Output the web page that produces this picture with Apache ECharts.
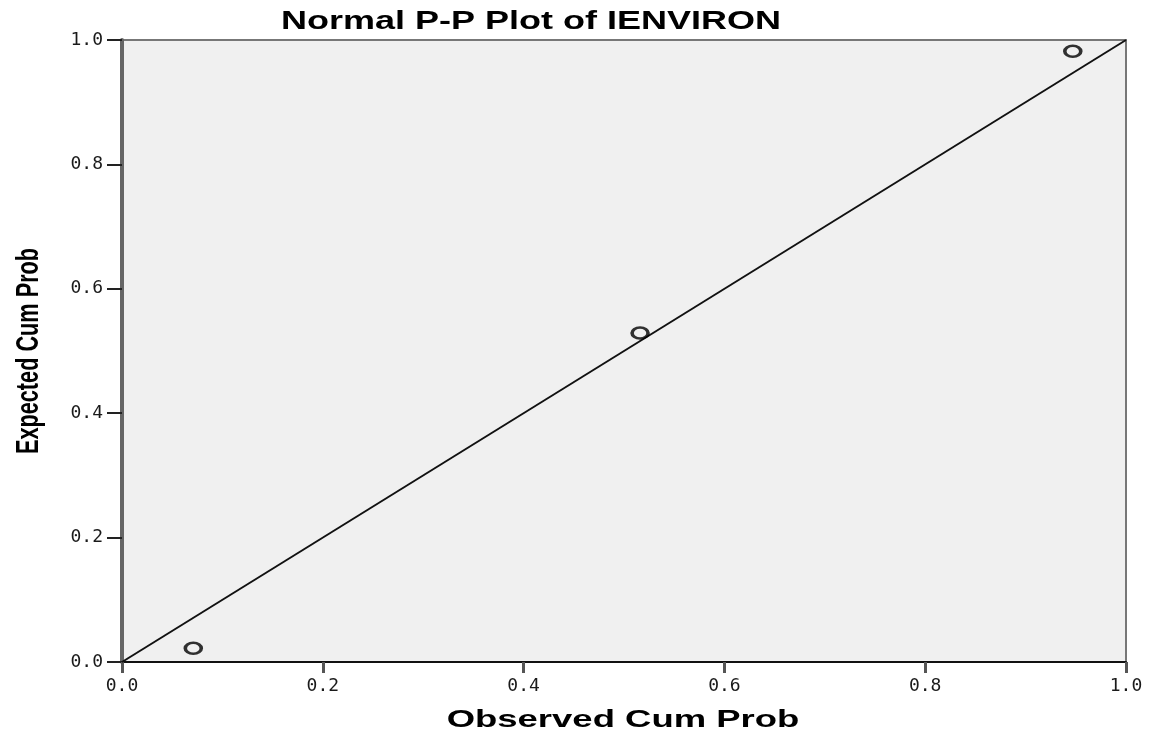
<!DOCTYPE html>
<html>
<head>
<meta charset="utf-8">
<script src="https://cdn.jsdelivr.net/npm/echarts@6/dist/echarts.min.js"></script>
<style>
  html, body { margin: 0; padding: 0; background: #fff; }
  #main { width: 1156px; height: 736px; }
</style>
</head>
<body>
<div id="main"></div>
<script>
// observed vs expected cumulative probability
var observedCum = [0.071, 0.516, 0.947];
var expectedCum = [0.022, 0.529, 0.982];
var diagonal = [0, 1];
var tickStep = 0.2;

var chart = echarts.init(document.getElementById('main'));

var points = observedCum.map(function (x, i) {
  return [x, expectedCum[i]];
});
var refLine = diagonal.map(function (v) {
  return [v, v];
});

// text helper, the original texts look stretched so we scale them
function label(txt, x, y, size, opts) {
  return Object.assign({
    type: 'text',
    x: x,
    y: y,
    silent: true,
    style: {
      text: txt,
      fontFamily: 'Liberation Sans, Arial, sans-serif',
      fontWeight: 'bold',
      fontSize: size,
      fill: '#000',
      align: 'center',
      verticalAlign: 'middle',
      textAlign: 'center',
      textVerticalAlign: 'middle'
    }
  }, opts || {});
}

var option = {
  backgroundColor: '#fff',
  animation: false,
  grid: {
    left: 122,
    right: 30,
    top: 40,
    bottom: 74,
    show: true,
    backgroundColor: '#f0f0f0',
    borderColor: '#777',
    borderWidth: 2
  },
  graphic: [
    label('Normal P-P Plot of IENVIRON', 531, 22, 25, { scaleX: 1.44 }),
    label('Observed Cum Prob', 623, 720, 24, { scaleX: 1.52 }),
    label('Expected Cum Prob', 29, 351, 31, { rotation: Math.PI / 2, scaleX: 0.7 })
  ],
  xAxis: {
    type: 'value',
    min: 0,
    max: 1,
    interval: tickStep,
    axisLine: { lineStyle: { color: '#111', width: 2 } },
    axisTick: { length: 11, lineStyle: { color: '#555', width: 3 } },
    axisLabel: {
      fontFamily: 'DejaVu Sans Mono',
      fontSize: 18,
      color: '#1a1a1a',
      margin: 15,
      formatter: function (v) { return v.toFixed(1); }
    },
    splitLine: { show: false }
  },
  yAxis: {
    type: 'value',
    min: 0,
    max: 1,
    interval: tickStep,
    axisLine: { lineStyle: { color: '#666', width: 4 } },
    axisTick: { length: 15, lineStyle: { color: '#222', width: 2 } },
    axisLabel: {
      fontFamily: 'DejaVu Sans Mono',
      fontSize: 18,
      color: '#1a1a1a',
      margin: 19,
      formatter: function (v) { return v.toFixed(1); }
    },
    splitLine: { show: false }
  },
  series: [
    {
      type: 'line',
      data: refLine,
      symbol: 'none',
      lineStyle: { color: '#111', width: 2 },
      z: 2
    },
    {
      type: 'scatter',
      data: points,
      symbol: 'circle',
      symbolSize: [16, 11],
      itemStyle: {
        color: 'rgba(0,0,0,0)',
        borderColor: '#000',
        borderWidth: 3
      },
      z: 3
    }
  ]
};

chart.setOption(option);
</script>
</body>
</html>
